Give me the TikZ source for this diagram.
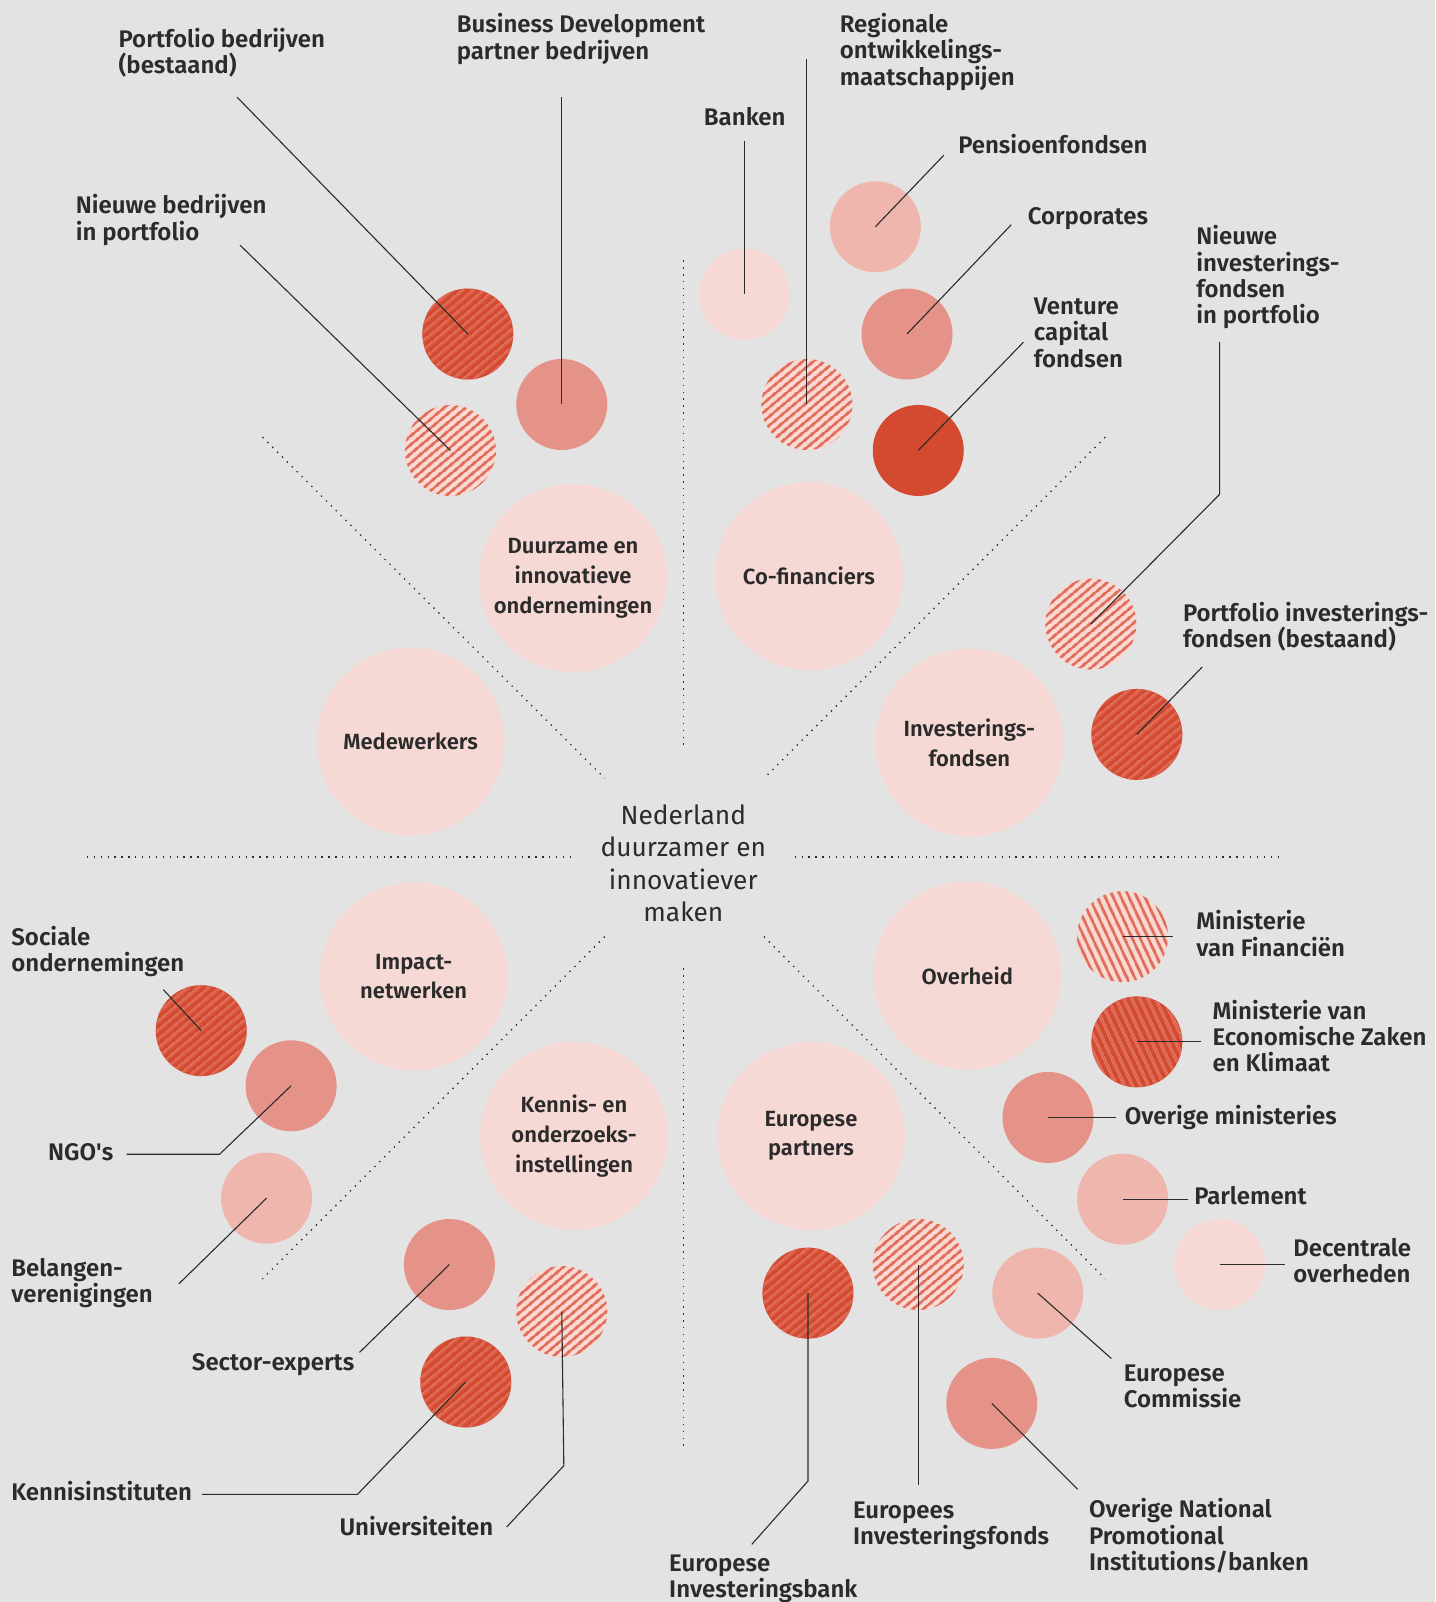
\documentclass[tikz,border=0pt]{standalone}
\usepackage{fontspec}
\setmainfont{Fira Sans}[BoldFont={Fira Sans SemiBold}]
\usetikzlibrary{patterns.meta}
\definecolor{achter}{HTML}{E3E3E3}
\definecolor{roze}{HTML}{F6D9D5}
\definecolor{zalm}{HTML}{EEB6AD}
\definecolor{koraal}{HTML}{E59388}
\definecolor{rood}{HTML}{D34A31}
\definecolor{roodlicht}{HTML}{DE6752}
\definecolor{streep}{HTML}{E06C5C}
\definecolor{streepbasis}{HTML}{F9DAD3}
\definecolor{inkt}{HTML}{2A2B2A}

\begin{document}
\begin{tikzpicture}[x=1.0214pt,y=-1.0214pt]
\tikzstyle{hub}=[circle,fill=roze,minimum size=188pt,inner sep=0,align=center,text=inkt,font=\fontsize{22}{29.8}\selectfont\bfseries];
\tikzstyle{spot}=[circle,minimum size=91pt,inner sep=0];
\tikzstyle{licht}=[spot,preaction={fill=streepbasis},pattern={Lines[angle=40,distance=6.5pt,line width=3pt]},pattern color=streep];
\tikzstyle{donker}=[spot,preaction={fill=rood},pattern={Lines[angle=40,distance=6.5pt,line width=2.4pt]},pattern color=roodlicht];
\tikzstyle{lichtsteil}=[spot,preaction={fill=streepbasis},pattern={Lines[angle=-65,distance=6.5pt,line width=3pt]},pattern color=streep];
\tikzstyle{donkersteil}=[spot,preaction={fill=rood},pattern={Lines[angle=-65,distance=6.5pt,line width=2.4pt]},pattern color=roodlicht];
\tikzstyle{lbl}=[align=left,anchor=base west,inner sep=0,text=inkt,font=\fontsize{24}{26.3}\selectfont\bfseries];
\tikzstyle{lblr}=[lbl,anchor=base east,align=right];
\tikzstyle{leader}=[draw=inkt,line width=1.1pt];
\tikzstyle{stippel}=[draw=inkt,line width=1.3pt,dash pattern=on 1.3pt off 5.6pt];

\fill[achter] (0,0) rectangle (1405,1568.4);
\useasboundingbox (0,0) rectangle (1405,1568.4);

% scheidingslijnen
\draw[stippel] (85,839) -- (560,839);
\draw[stippel] (778,839) -- (1255,839);
\draw[stippel] (669,255) -- (669,730);
\draw[stippel] (669,948) -- (669,1420);
\draw[stippel] (257,428) -- (592,762);
\draw[stippel] (1082,428) -- (748,762);
\draw[stippel] (592,917) -- (257,1252);
\draw[stippel] (748,917) -- (1082,1252);

\node (kern) at (669,845) [align=center,text=inkt,font=\fontsize{26.3}{32.4}\selectfont] {Nederland\\duurzamer en\\innovatiever\\maken};

% grote cirkels
\node (duur) at (561,566) [hub] {Duurzame en\\innovatieve\\ondernemingen};
\node (cofi) at (792,564) [hub] {Co-financiers};
\node (mede) at (402,726) [hub] {Medewerkers};
\node (invf) at (949,727) [hub] {Investerings-\\fondsen};
\node (impa) at (405,956) [hub] {Impact-\\netwerken};
\node (over) at (947,955) [hub] {Overheid};
\node (kenn) at (562,1112) [hub] {Kennis- en\\onderzoeks-\\instellingen};
\node (euro) at (794,1112) [hub] {Europese\\partners};

% kleine cirkels
\node (pb) at (458,327) [donker] {};
\node (nb) at (441,441) [licht] {};
\node (bd) at (550,396) [spot,fill=koraal] {};
\node (bk) at (729,288) [spot,fill=roze] {};
\node (ro) at (790,396) [licht] {};
\node (pf) at (857,222) [spot,fill=zalm] {};
\node (co) at (888,327) [spot,fill=koraal] {};
\node (vc) at (899,441) [spot,fill=rood] {};
\node (ni) at (1068,611) [licht] {};
\node (pi) at (1113,719) [donker] {};
\node (mf) at (1099,917) [lichtsteil] {};
\node (mz) at (1113,1020) [donkersteil] {};
\node (om) at (1026,1094) [spot,fill=koraal] {};
\node (pa) at (1099,1174) [spot,fill=zalm] {};
\node (dc) at (1194,1238) [spot,fill=roze] {};
\node (ec) at (1016,1266) [spot,fill=zalm] {};
\node (on) at (971,1374) [spot,fill=koraal] {};
\node (ef) at (899,1238) [licht] {};
\node (eb) at (791,1266) [donker] {};
\node (ki) at (456,1353) [donker] {};
\node (un) at (550,1284) [licht] {};
\node (se) at (440,1238) [spot,fill=koraal] {};
\node (be) at (261,1173) [spot,fill=zalm] {};
\node (ng) at (285,1063) [spot,fill=koraal] {};
\node (so) at (197,1009) [donker] {};

% labels (basislijn van de laatste regel)
\node (pbed) at (116,72) [lbl] {Portfolio bedrijven\\(bestaand)};
\node (nbed) at (74,235) [lbl] {Nieuwe bedrijven\\in portfolio};
\node (bdev) at (447,58) [lbl] {Business Development\\partner bedrijven};
\node (bank) at (689,123) [lbl] {Banken};
\node (rom) at (822,83.5) [lbl] {Regionale\\ontwikkelings-\\maatschappijen};
\node (pens) at (938,150) [lbl] {Pensioenfondsen};
\node (corp) at (1006,220) [lbl] {Corporates};
\node (vcf) at (1012,359.5) [lbl] {Venture\\capital\\fondsen};
\node (nif) at (1171,317) [lbl] {Nieuwe\\investerings-\\fondsen\\in portfolio};
\node (pif) at (1158,634) [lbl] {Portfolio investerings-\\fondsen (bestaand)};
\node (minfin) at (1171,936) [lbl] {Ministerie\\van Financiën};
\node (mezk) at (1187,1049.5) [lbl] {Ministerie van\\Economische Zaken\\en Klimaat};
\node (omin) at (1101,1101) [lbl] {Overige ministeries};
\node (parl) at (1169,1179) [lbl] {Parlement};
\node (dec) at (1266,1256) [lbl] {Decentrale\\overheden};
\node (eco) at (1100,1378) [lbl] {Europese\\Commissie};
\node (onpi) at (1066,1537.5) [lbl] {Overige National\\Promotional\\Institutions/banken};
\node (eif) at (835,1512) [lbl] {Europees\\Investeringsfonds};
\node (eib) at (655,1564) [lbl] {Europese\\Investeringsbank};
\node (kinst) at (11,1469) [lbl] {Kennisinstituten};
\node (univ) at (483,1503) [lblr] {Universiteiten};
\node (sect) at (347,1342) [lblr] {Sector-experts};
\node (belang) at (11,1275) [lbl] {Belangen-\\verenigingen};
\node (ngo) at (47,1136) [lbl] {NGO\textquotesingle s};
\node (soc) at (11,951) [lbl] {Sociale\\ondernemingen};

% lijnen
\coordinate (pbed-e) at (232,95);
\coordinate (nbed-e) at (235,240);
\coordinate (bdev-e) at (550,95);
\coordinate (bank-e) at (729,138);
\coordinate (rom-e) at (790,58);
\coordinate (pens-e) at (924,152);
\coordinate (corp-e) at (990,220);
\coordinate (vcf-e) at (1002,335);
\coordinate (nif-e) at (1194,335);
\coordinate (nif-k) at (1194,484);
\coordinate (pif-e) at (1177,653);
\coordinate (minfin-e) at (1148,917);
\coordinate (mezk-e) at (1176,1020);
\coordinate (omin-e) at (1093,1094);
\coordinate (parl-e) at (1163,1174);
\coordinate (dec-e) at (1258,1238);
\coordinate (eco-e) at (1088,1330);
\coordinate (onpi-e) at (1055,1458);
\coordinate (eif-e) at (899,1454);
\coordinate (eib-e) at (736,1512);
\coordinate (eib-k) at (791,1450);
\coordinate (kinst-e) at (198,1463);
\coordinate (kinst-k) at (350,1463);
\coordinate (univ-e) at (496,1495);
\coordinate (univ-k) at (552,1435);
\coordinate (sect-e) at (352,1324);
\coordinate (belang-e) at (175,1257);
\coordinate (ngo-e) at (124,1130);
\coordinate (ngo-k) at (215,1130);
\coordinate (soc-e) at (160,969);

\draw[leader] (pbed-e) -- (pb.center);
\draw[leader] (nbed-e) -- (nb.center);
\draw[leader] (bdev-e) -- (bd.center);
\draw[leader] (bank-e) -- (bk.center);
\draw[leader] (rom-e) -- (ro.center);
\draw[leader] (pens-e) -- (pf.center);
\draw[leader] (corp-e) -- (co.center);
\draw[leader] (vcf-e) -- (vc.center);
\draw[leader] (nif-e) -- (nif-k) -- (ni.center);
\draw[leader] (pif-e) -- (pi.center);
\draw[leader] (minfin-e) -- (mf.center);
\draw[leader] (mezk-e) -- (mz.center);
\draw[leader] (omin-e) -- (om.center);
\draw[leader] (parl-e) -- (pa.center);
\draw[leader] (dec-e) -- (dc.center);
\draw[leader] (eco-e) -- (ec.center);
\draw[leader] (onpi-e) -- (on.center);
\draw[leader] (eif-e) -- (ef.center);
\draw[leader] (eib-e) -- (eib-k) -- (eb.center);
\draw[leader] (kinst-e) -- (kinst-k) -- (ki.center);
\draw[leader] (univ-e) -- (univ-k) -- (un.center);
\draw[leader] (sect-e) -- (se.center);
\draw[leader] (belang-e) -- (be.center);
\draw[leader] (ngo-e) -- (ngo-k) -- (ng.center);
\draw[leader] (soc-e) -- (so.center);
\end{tikzpicture}
\end{document}
